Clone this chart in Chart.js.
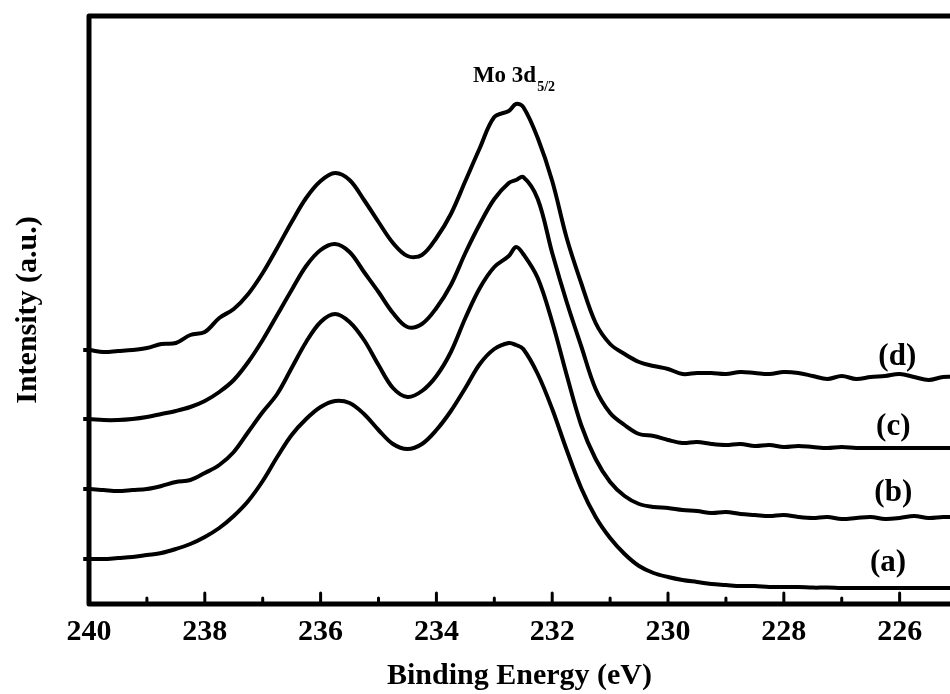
<!DOCTYPE html>
<html>
<head>
<meta charset="utf-8">
<title>Mo 3d XPS</title>
<script src="https://cdn.jsdelivr.net/npm/chart.js@4.4.0/dist/chart.umd.min.js"></script>
<style>
  html, body { margin: 0; padding: 0; background: #fff; }
  #wrap { width: 950px; height: 694px; }
</style>
</head>
<body>
<div id="wrap"><canvas id="xps" width="950" height="694"></canvas></div>
<script>
// binding energy grid (eV), shared by all four spectra
const energy = [240.1, 240, 239.75, 239.5, 239.25, 239, 238.75, 238.5, 238.25, 238, 237.75, 237.5, 237.25,
    237, 236.75, 236.5, 236.25, 236, 235.75, 235.5, 235.25, 235, 234.75, 234.5, 234.25, 234,
    233.75, 233.5, 233.25, 233, 232.75, 232.625, 232.5, 232.25, 232, 231.75, 231.5, 231.25, 231,
    230.75, 230.5, 230.25, 230, 229.75, 229.5, 229.25, 229, 228.75, 228.5, 228.25, 228, 227.75,
    227.5, 227.25, 227, 226.75, 226.5, 226.25, 226, 225.75, 225.5, 225.25, 225]

// intensities (a.u.), offset stacked as in the figure
const spectrumA = [11.25, 11.25, 11.25, 11.5, 11.75, 12.25, 12.75, 13.75, 15, 16.75, 19, 22, 25.75,
    30.75, 36.75, 42.25, 46.25, 49.25, 50.75, 50.25, 47.5, 43.5, 40, 38.75, 40, 43.5,
    48.25, 54, 60, 63.75, 65.25, 64.75, 63.75, 57.5, 48.75, 38.5, 29, 21.75, 16.5,
    12.5, 9.5, 7.75, 6.75, 6, 5.5, 5, 4.75, 4.5, 4.5, 4.25, 4.25, 4.25,
    4.1, 4.1, 4, 4, 4, 4, 4, 4, 4, 4, 4]

const spectrumB = [28.75, 28.75, 28.5, 28.25, 28.5, 28.75, 29.5, 30.5, 31, 32.75, 34.75, 38, 43,
    48, 52.5, 59, 65.5, 70.5, 72.5, 70.5, 66, 59.75, 54, 51.75, 53.25, 57,
    63, 71.5, 79, 84.25, 87, 89.25, 87.5, 81.5, 70.5, 57.25, 44.75, 36.25, 30.5,
    27, 25, 24.25, 24, 23.5, 23.25, 22.75, 23, 22.5, 22.25, 22, 22.25, 21.75,
    21.5, 21.75, 21.25, 21.5, 21.75, 21.25, 21.5, 22, 21.5, 21.75, 21.75]

const spectrumC = [46.25, 46.25, 46, 46, 46.25, 46.75, 47.5, 48.25, 49.25, 50.75, 53, 56, 60.5,
    66, 72.25, 78.5, 84.5, 88.5, 90, 88, 83, 78, 72.75, 69.25, 70, 74,
    79.75, 87.75, 95, 101.25, 105.25, 106, 106.75, 101.25, 87.75, 75.5, 64.5, 53.75, 47.75,
    44.75, 42.5, 42, 41, 40.25, 40.5, 40, 39.75, 40, 39.5, 39.75, 39.25, 39.5,
    39.25, 39, 39.25, 39, 39, 39, 39, 39, 39, 39, 39]

const spectrumD = [63.5, 63.5, 63, 63.25, 63.5, 64, 65, 65.25, 67.25, 68, 71.5, 73.75, 77.5,
    82.75, 89, 95.5, 101.5, 105.75, 107.75, 106, 101, 95.5, 90.25, 87, 87.25, 91.5,
    97.5, 105.75, 114, 121.75, 123.25, 125, 124.25, 116.5, 105.75, 91.5, 80.25, 70.25, 65,
    62.5, 60.5, 59.5, 58.75, 57.5, 57.75, 57.75, 57.5, 58, 57.75, 57.5, 58, 57.75,
    57, 56.25, 57, 56.25, 56.75, 57, 57.5, 56.75, 56, 56.75, 56.75]

const spectra = [spectrumA, spectrumB, spectrumC, spectrumD]

// curve tags and where they sit (energy, intensity)
const curveTags = ['(a)', '(b)', '(c)', '(d)']
const tagEnergy = [226.2, 226.11, 226.11, 226.04]
const tagIntensity = [10.25, 27.75, 44.25, 61.75]

const peakName = 'Mo 3d'
const peakSub = '5/2'
const peakAt = [233.37, 130.5]

const xMin = 225.13, xMax = 240
const yMin = 0, yMax = 147

const serif = "'Liberation Serif', 'Times New Roman', serif"

// frame, inward ticks and text annotations
const decorations = {
    id: 'decorations',
    afterDatasetsDraw(chart) {
        const {ctx, chartArea, scales: {x, y}} = chart
        const {left, top, bottom} = chartArea
        const right = chart.width
        ctx.save()
        ctx.strokeStyle = '#000'
        ctx.lineJoin = 'round'
        ctx.lineCap = 'round'

        ctx.lineWidth = 5
        ctx.beginPath()
        ctx.moveTo(right + 5, top)
        ctx.lineTo(left, top)
        ctx.lineTo(left, bottom)
        ctx.lineTo(right + 5, bottom)
        ctx.stroke()

        ctx.lineWidth = 3
        x.ticks.forEach(t => {
            const px = x.getPixelForValue(t.value)
            const len = t.value % 2 === 0 ? 11 : 6
            ctx.beginPath()
            ctx.moveTo(px, bottom)
            ctx.lineTo(px, bottom - len)
            ctx.stroke()
        })

        ctx.fillStyle = '#000'
        ctx.font = 'bold 31px ' + serif
        ctx.textAlign = 'center'
        ctx.textBaseline = 'middle'
        curveTags.forEach((tag, i) => {
            ctx.fillText(tag, x.getPixelForValue(tagEnergy[i]), y.getPixelForValue(tagIntensity[i]))
        })

        const px = x.getPixelForValue(peakAt[0])
        const py = y.getPixelForValue(peakAt[1])
        ctx.textAlign = 'left'
        ctx.textBaseline = 'alphabetic'
        ctx.font = 'bold 23px ' + serif
        ctx.fillText(peakName, px, py)
        const w = ctx.measureText(peakName).width
        ctx.font = 'bold 14px ' + serif
        ctx.fillText(peakSub, px + w + 1, py + 9)
        ctx.restore()
    }
}

const xpsChart = new Chart(document.getElementById('xps'), {
    type: 'line',
    data: {
        labels: energy,
        datasets: spectra.map((s, i) => ({
            label: curveTags[i],
            data: s.map((v, j) => ({x: energy[j], y: v})),
            borderColor: '#000',
            borderWidth: 4,
            pointRadius: 0,
            tension: 0.35,
            fill: false,
            clip: {left: 8, top: 0, right: 0, bottom: 0}
        }))
    },
    options: {
        responsive: false,
        devicePixelRatio: 1,
        animation: false,
        layout: {padding: {left: 6, top: 16, right: 0, bottom: 0}},
        plugins: {legend: {display: false}, tooltip: {enabled: false}},
        scales: {
            x: {
                type: 'linear',
                reverse: true,
                min: xMin,
                max: xMax,
                grid: {display: false, drawTicks: false},
                border: {display: false},
                ticks: {
                    stepSize: 1,
                    includeBounds: false,
                    autoSkip: false,
                    maxRotation: 0,
                    padding: 10,
                    color: '#000',
                    font: {family: serif, size: 30, weight: 'bold'},
                    callback: v => v % 2 === 0 ? v : ''
                },
                title: {
                    display: true,
                    text: 'Binding Energy (eV)',
                    color: '#000',
                    font: {family: serif, size: 30, weight: 'bold'},
                    padding: {top: 0, bottom: 0}
                },
                afterFit: scale => { scale.height = 90 }
            },
            y: {
                min: yMin,
                max: yMax,
                grid: {display: false, drawTicks: false},
                border: {display: false},
                ticks: {display: false},
                title: {
                    display: true,
                    text: 'Intensity (a.u.)',
                    color: '#000',
                    font: {family: serif, size: 30, weight: 'bold'},
                    padding: {top: 4, bottom: 0}
                },
                afterFit: scale => { scale.width = 83 }
            }
        }
    },
    plugins: [decorations]
})
</script>
</body>
</html>
